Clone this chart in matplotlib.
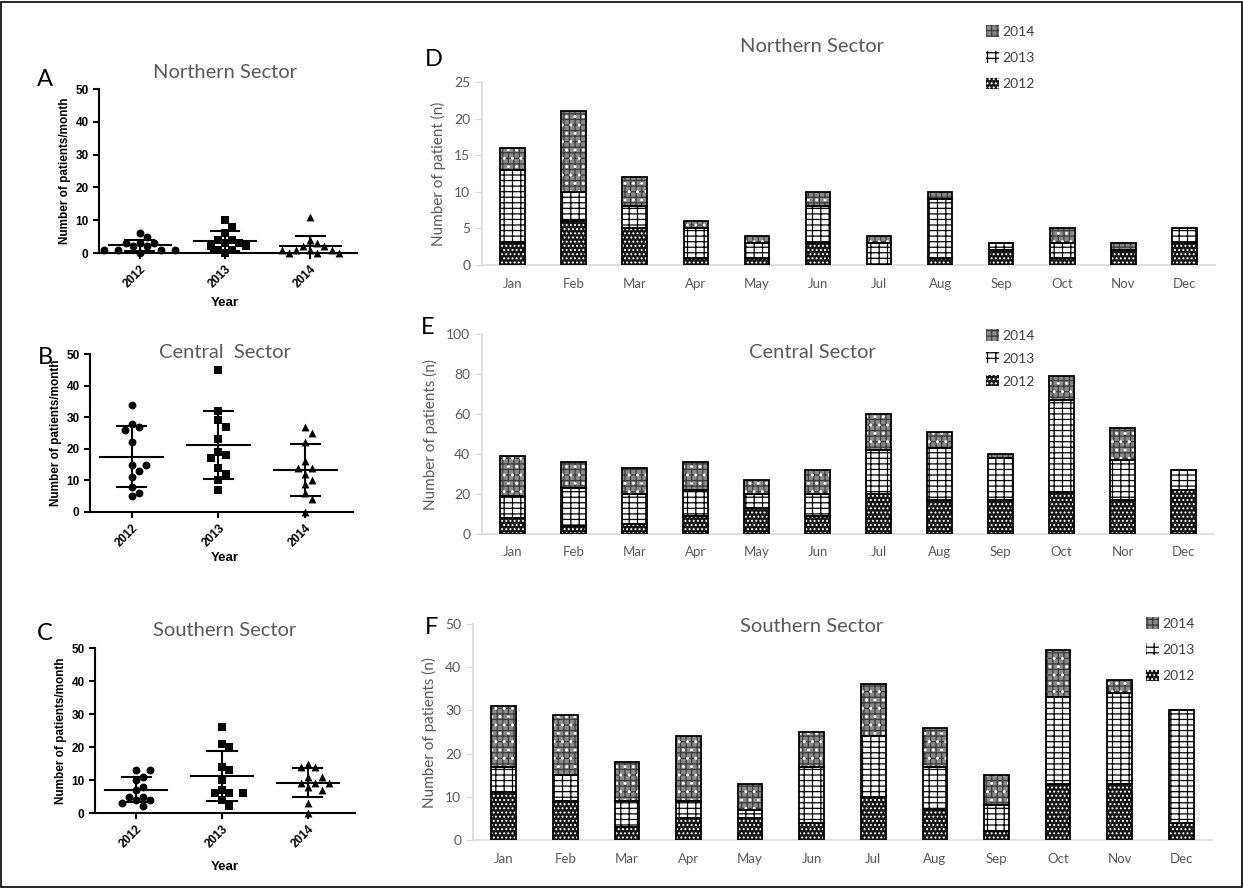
import numpy as np
import matplotlib
matplotlib.use('Agg')
import matplotlib.pyplot as plt
from matplotlib.patches import Patch, Rectangle

plt.rcParams['hatch.linewidth'] = 0.9

# ---- data: left scatter panels (patients per month, one value per month)
years = ['2012', '2013', '2014']

north_pts = [[6, 5, 3, 3, 3, 2, 2, 1, 1, 1, 1, 0],
             [10, 8, 6, 4, 4, 3, 3, 2, 2, 1, 1, 0],
             [11, 4, 3, 2, 2, 1, 1, 1, 1, 0, 0, 0]]
central_pts = [[34, 28, 27, 26, 22, 15, 15, 13, 11, 8, 6, 5],
               [45, 32, 29, 27, 23, 19, 18, 17, 14, 12, 10, 7],
               [27, 25, 22, 16, 14, 14, 12, 10, 9, 6, 4, 0]]
south_pts = [[13, 13, 11, 10, 8, 7, 5, 5, 4, 4, 3, 2],
             [26, 21, 20, 14, 13, 10, 7, 6, 6, 6, 4, 2],
             [15, 14, 14, 11, 11, 9, 9, 9, 8, 7, 3, 0]]

# ---- data: right stacked bars (patients per month and year)
months = ['Jan', 'Feb', 'Mar', 'Apr', 'May', 'Jun',
          'Jul', 'Aug', 'Sep', 'Oct', 'Nov', 'Dec']
months_central = ['Jan', 'Feb', 'Mar', 'Apr', 'May', 'Jun',
                  'Jul', 'Aug', 'Sep', 'Oct', 'Nor', 'Dec']

north_2012 = [3, 6, 5, 1, 1, 3, 0, 1, 2, 1, 2, 3]
north_2013 = [10, 4, 3, 4, 2, 5, 3, 8, 1, 2, 0, 2]
north_2014 = [3, 11, 4, 1, 1, 2, 1, 1, 0, 2, 1, 0]

central_2012 = [8, 4, 5, 9, 13, 9, 20, 17, 17, 21, 17, 22]
central_2013 = [11, 19, 15, 13, 7, 11, 22, 26, 21, 46, 20, 10]
central_2014 = [20, 13, 13, 14, 7, 12, 18, 8, 2, 12, 16, 0]

south_2012 = [11, 9, 3, 5, 5, 4, 10, 7, 2, 13, 13, 4]
south_2013 = [6, 6, 6, 4, 2, 13, 14, 10, 6, 20, 21, 26]
south_2014 = [14, 14, 9, 15, 6, 8, 12, 9, 7, 11, 3, 0]

W, H = 1243, 888
fig = plt.figure(figsize=(W / 100, H / 100), dpi=100)
fig.patches.append(Rectangle((0.001, 0.001), 0.998, 0.997, transform=fig.transFigure,
                             fill=False, edgecolor='black', linewidth=1.2))

def rect(l, t, r, b):
    return [l / W, 1 - b / H, (r - l) / W, (b - t) / H]

GRAY = '#595959'
XF = 'Lato'


def swarm(vals, xpx, ypx, d=7.5):
    # simple beeswarm: spread points that would overlap
    order = np.argsort(vals)[::-1]
    placed = []
    offs = np.zeros(len(vals))
    for i in order:
        v = vals[i]
        k = 0
        while True:
            step = (k + 1) // 2 * (1 if k % 2 else -1)
            xo = step * d * 0.95 / xpx
            if all(np.hypot((xo - px) * xpx, (v - pv) * ypx) >= d for px, pv in placed):
                break
            k += 1
        placed.append((xo, v))
        offs[i] = xo
    return offs


def scatter_panel(box, pts, title, title_y, letter, letter_y, year_y, title_x=225):
    ax = fig.add_axes(rect(*box))
    wpx = box[2] - box[0]
    hpx = box[3] - box[1]
    xl = (-0.48, 2.55)
    xpx = wpx / (xl[1] - xl[0])
    ypx = hpx / 50
    markers = ['o', 's', '^']
    for i, vals in enumerate(pts):
        vals = np.array(vals, float)
        offs = swarm(vals, xpx, ypx)
        ax.scatter(i + offs, vals, s=32, marker=markers[i], color='black',
                   zorder=3, clip_on=False, linewidths=0)
        m = vals.mean()
        sd = vals.std(ddof=1)
        ax.plot([i - 0.36, i + 0.36], [m, m], color='black', lw=1.5, zorder=4)
        ax.plot([i, i], [m - sd, m + sd], color='black', lw=1.5, zorder=4)
        for y in (m - sd, m + sd):
            ax.plot([i - 0.17, i + 0.17], [y, y], color='black', lw=1.5, zorder=4)
    ax.set_xlim(*xl)
    ax.set_ylim(0, 50)
    ax.set_yticks([0, 10, 20, 30, 40, 50])
    ax.set_xticks([0, 1, 2])
    ax.set_xticklabels(years, rotation=45, ha='right', rotation_mode='anchor')
    for s in ('top', 'right'):
        ax.spines[s].set_visible(False)
    for s in ('left', 'bottom'):
        ax.spines[s].set_linewidth(1.5)
    ax.tick_params(width=1.5, length=4, labelsize=8.5)
    for lab in ax.get_xticklabels() + ax.get_yticklabels():
        lab.set_fontweight('bold')
        lab.set_family('Liberation Sans')
    ax.set_ylabel('Number of patients/month', fontsize=8.5, fontweight='bold',
                  family='Liberation Sans', labelpad=3)
    fig.text(title_x / W, 1 - title_y / H, title, fontsize=14.5, color=GRAY, family=XF,
             ha='center', va='center')
    fig.text(225 / W, 1 - year_y / H, 'Year', fontsize=9.5, fontweight='bold',
             family='Liberation Sans', ha='center', va='center')
    fig.text(45 / W, 1 - letter_y / H, letter, fontsize=17, family=XF,
             ha='center', va='center')
    return ax


# hatch layers for the bar years: list of (face, hatch colour, hatch)
styles = {'2012': [('#151515', 'white', '....')],
          '2013': [('white', 'black', '---||')],
          '2014': [('#8a8a8a', '#3c3c3c', '+++'), ('none', 'white', '..')]}


def bar_panel(box, labels, series, ymax, ystep, ylabel, title, title_y,
              letter, letter_xy, leg_xy, leg_space):
    ax = fig.add_axes(rect(*box))
    x = np.arange(len(labels))
    bottom = np.zeros(len(labels))
    handles = []
    for yr, vals in zip(years, series):
        vals = np.array(vals, float)
        for face, hc, hatch in styles[yr]:
            ax.bar(x, vals, 0.4, bottom=bottom, color=face, edgecolor=hc, hatch=hatch,
                   linewidth=0, zorder=2)
        ax.bar(x, vals, 0.4, bottom=bottom, fill=False, edgecolor='black',
               linewidth=1.3, zorder=3)
        face, hc, hatch = styles[yr][0]
        handles.append(Patch(facecolor=face, edgecolor=hc, hatch=hatch, linewidth=0))
        bottom += vals
    ax.set_xlim(-0.5, len(labels) - 0.5)
    ax.set_ylim(0, ymax)
    ax.set_yticks(np.arange(0, ymax + 1, ystep))
    ax.set_xticks(x)
    ax.set_xticklabels(labels)
    for s in ('top', 'right'):
        ax.spines[s].set_visible(False)
    for s in ('left', 'bottom'):
        ax.spines[s].set_color('#d9d9d9')
        ax.spines[s].set_linewidth(1.2)
    ax.tick_params(axis='y', length=5, color='#d9d9d9', labelsize=10, labelcolor=GRAY)
    ax.tick_params(axis='x', length=0, labelsize=9.5, labelcolor=GRAY, pad=9)
    for lab in ax.get_xticklabels() + ax.get_yticklabels():
        lab.set_family(XF)
    ax.set_ylabel(ylabel, fontsize=11, color=GRAY, family=XF, labelpad=6)
    fig.text(812 / W, 1 - title_y / H, title, fontsize=14.5, color=GRAY, family=XF,
             ha='center', va='center')
    fig.text(letter_xy[0] / W, 1 - letter_xy[1] / H, letter, fontsize=17, family=XF,
             ha='center', va='center')
    leg = fig.legend(handles[::-1], years[::-1], loc='upper left',
                     bbox_to_anchor=(leg_xy[0] / W, 1 - leg_xy[1] / H),
                     frameon=False, handlelength=0.9, handleheight=0.9,
                     handletextpad=0.3, labelspacing=leg_space,
                     prop={'family': XF, 'size': 10}, borderaxespad=0, borderpad=0)
    for t in leg.get_texts():
        t.set_color('#404040')
    return ax


scatter_panel((99, 89, 357, 253), north_pts, 'Northern Sector', 72, 'A', 80, 303)
scatter_panel((90, 354, 353, 512), central_pts, 'Central  Sector', 352, 'B', 357, 558)
scatter_panel((95, 648, 355, 813), south_pts, 'Southern Sector', 630, 'C', 633, 867)

bar_panel((482, 82, 1215, 265), months, [north_2012, north_2013, north_2014],
          25, 5, 'Number of patient (n)', 'Northern Sector', 46, 'D', (434, 60),
          (986, 25), 1.0)
bar_panel((482, 334, 1214, 534), months_central, [central_2012, central_2013, central_2014],
          100, 20, 'Number of patients (n)', 'Central Sector', 353, 'E', (428, 328),
          (986, 329), 0.75)
bar_panel((473, 624, 1212, 840), months, [south_2012, south_2013, south_2014],
          50, 10, 'Number of patients (n)', 'Southern Sector', 627, 'F', (432, 628),
          (1146, 617), 1.0)

fig.savefig('out.png', dpi=100)
